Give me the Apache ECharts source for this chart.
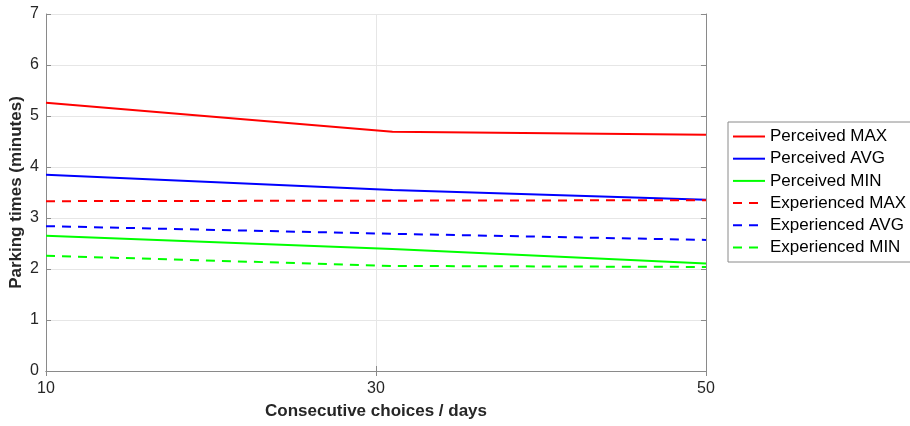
<!DOCTYPE html>
<html>
<head>
<meta charset="utf-8">
<script src="https://cdn.jsdelivr.net/npm/echarts@6/dist/echarts.min.js"></script>
<style>
  html, body { margin: 0; padding: 0; background: #fff; }
  #chart { width: 910px; height: 426px; }
</style>
</head>
<body>
<div id="chart"></div>
<script>
// Days at which parking times were sampled
const days = [10, 31, 50];
const xTicks = [10, 30, 50];

// Parking times in minutes
const perceivedMax = [5.26, 4.69, 4.63];
const perceivedAvg = [3.85, 3.55, 3.36];
const perceivedMin = [2.65, 2.39, 2.11];
const experiencedMax = [3.33, 3.34, 3.35];
const experiencedAvg = [2.84, 2.69, 2.57];
const experiencedMin = [2.26, 2.06, 2.04];

const seriesDefs = [
  { name: 'Perceived MAX', values: perceivedMax, color: '#ff0000', dash: 'solid' },
  { name: 'Perceived AVG', values: perceivedAvg, color: '#0000ff', dash: 'solid' },
  { name: 'Perceived MIN', values: perceivedMin, color: '#00ff00', dash: 'solid' },
  { name: 'Experienced MAX', values: experiencedMax, color: '#ff0000', dash: [9, 7] },
  { name: 'Experienced AVG', values: experiencedAvg, color: '#0000ff', dash: [9, 7] },
  { name: 'Experienced MIN', values: experiencedMin, color: '#00ff00', dash: [9, 7] }
];

const font = 'Liberation Sans, Arial, Helvetica, sans-serif';
const axisGray = '#8a8a8a';
const gridGray = '#e6e6e6';

const chart = echarts.init(document.getElementById('chart'), null, { renderer: 'canvas' });

chart.setOption({
  animation: false,
  backgroundColor: '#fff',
  grid: { left: 46, right: 204, top: 14, bottom: 55, show: false, containLabel: false, outerBoundsMode: 'none' },
  legend: {
    orient: 'vertical',
    left: 728,
    top: 122,
    itemWidth: 32,
    itemHeight: 12,
    itemGap: 5.2,
    padding: [6, 8, 6, 4],
    borderColor: '#8a8a8a',
    borderWidth: 1,
    borderRadius: 0,
    backgroundColor: '#fff',
    itemStyle: { opacity: 0 },
    textStyle: { fontFamily: font, fontSize: 17, color: '#000' },
    data: seriesDefs.map(s => s.name)
  },
  xAxis: [
    {
      type: 'value',
      min: 10,
      max: 50,
      name: 'Consecutive choices / days',
      nameLocation: 'middle',
      nameGap: 32,
      nameMoveOverlap: false,
      nameTextStyle: { fontFamily: font, fontSize: 17, fontWeight: 'bold', color: '#262626' },
      axisLine: { show: true, lineStyle: { color: axisGray, width: 1 } },
      axisTick: { show: true, inside: true, length: 5, customValues: xTicks, lineStyle: { color: axisGray } },
      axisLabel: { customValues: xTicks, margin: 10, fontFamily: font, fontSize: 16, color: '#262626' },
      splitLine: { show: true, lineStyle: { color: gridGray, width: 1 } }
    },
    {
      type: 'value',
      position: 'top',
      min: 10,
      max: 50,
      axisLine: { show: true, lineStyle: { color: axisGray, width: 1 } },
      axisTick: { show: true, inside: true, length: 5, customValues: xTicks, lineStyle: { color: axisGray } },
      axisLabel: { show: false },
      splitLine: { show: false }
    }
  ],
  yAxis: [
    {
      type: 'value',
      min: 0,
      max: 7,
      interval: 1,
      name: 'Parking times (minutes)',
      nameLocation: 'middle',
      nameGap: 21,
      nameMoveOverlap: false,
      nameTextStyle: { fontFamily: font, fontSize: 17, fontWeight: 'bold', color: '#262626' },
      axisLine: { show: true, lineStyle: { color: axisGray, width: 1 } },
      axisTick: { show: true, inside: true, length: 5, lineStyle: { color: axisGray } },
      axisLabel: { margin: 7, fontFamily: font, fontSize: 16, color: '#262626' },
      splitLine: { show: true, lineStyle: { color: gridGray, width: 1 } }
    },
    {
      type: 'value',
      position: 'right',
      min: 0,
      max: 7,
      interval: 1,
      axisLine: { show: true, lineStyle: { color: axisGray, width: 1 } },
      axisTick: { show: true, inside: true, length: 5, lineStyle: { color: axisGray } },
      axisLabel: { show: false },
      splitLine: { show: false }
    }
  ],
  series: seriesDefs.map(s => ({
    name: s.name,
    type: 'line',
    xAxisIndex: 0,
    yAxisIndex: 0,
    symbol: 'none',
    data: days.map((d, i) => [d, s.values[i]]),
    color: s.color,
    lineStyle: { color: s.color, width: 2, type: s.dash },
    z: 3
  }))
});
</script>
</body>
</html>
